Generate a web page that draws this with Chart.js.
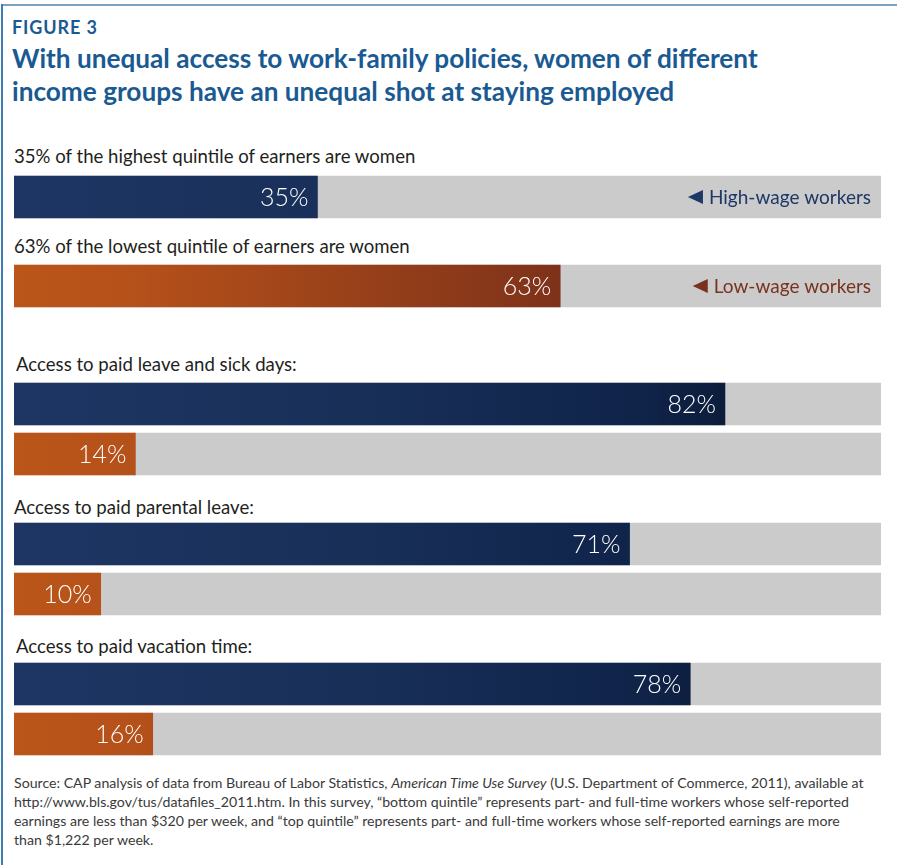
<!DOCTYPE html>
<html>
<head>
<meta charset="utf-8">
<script src="https://cdn.jsdelivr.net/npm/chart.js@4"></script>
<style>
  html, body { margin: 0; padding: 0; background: #fff; }
  #wrap { position: relative; width: 897px; height: 865px; overflow: hidden; font-family: Lato, "Open Sans", sans-serif; }
  .frameTop { position: absolute; left: 2px; top: 4px; width: 895px; height: 2px; background: #7aa3c0; }
  .frameLeft { position: absolute; left: 1px; top: 4px; width: 2px; height: 861px; background: #3d7db3; }
  .fig { position: absolute; left: 12px; top: 16px; font-size: 18px; font-weight: 700; color: #1a5a92; letter-spacing: 0.9px; }
  .title { position: absolute; left: 12px; top: 42px; font-size: 26.2px; font-weight: 700; color: #1a5a92; line-height: 33px; white-space: nowrap; }
  .lab { position: absolute; left: 14px; font-size: 18.6px; color: #231f20; white-space: nowrap; }
  .src { position: absolute; left: 14px; top: 773px; font-size: 14.15px; line-height: 19px; color: #3a3a3a; white-space: nowrap; }
  canvas { position: absolute; left: 14px; }
</style>
</head>
<body>
<div id="wrap">
  <div class="frameTop"></div>
  <div class="frameLeft"></div>
  <div class="fig">FIGURE 3</div>
  <div class="title">With unequal access to work-family policies, women of different<br>income groups have an unequal shot at staying employed</div>

  <div class="lab" id="lab0" style="top:145px"></div>
  <canvas id="c0" width="867" height="50" style="top:172px"></canvas>
  <div class="lab" id="lab1" style="top:235px"></div>
  <canvas id="c1" width="867" height="50" style="top:261px"></canvas>

  <div class="lab" id="lab2" style="top:353px; left:16px"></div>
  <canvas id="c2" width="867" height="100" style="top:379px"></canvas>
  <div class="lab" id="lab3" style="top:496px"></div>
  <canvas id="c3" width="867" height="100" style="top:519px"></canvas>
  <div class="lab" id="lab4" style="top:635px; left:16px"></div>
  <canvas id="c4" width="867" height="100" style="top:659px"></canvas>

  <div class="src">Source: CAP analysis of data from Bureau of Labor Statistics, <i>American Time Use Survey</i> (U.S. Department of Commerce, 2011), available at<br>http://www.bls.gov/tus/datafiles_2011.htm. In this survey, “bottom quintile” represents part- and full-time workers whose self-reported<br>earnings are less than $320 per week, and “top quintile” represents part- and full-time workers whose self-reported earnings are more<br>than $1,222 per week.</div>
</div>

<script>
// ---- Data ----
const shareLabels = ["35% of the highest quintile of earners are women", "63% of the lowest quintile of earners are women"];
const shareGroups = ["High-wage workers", "Low-wage workers"];
const shareWomen = [35, 63];

const policyLabels = ["Access to paid leave and sick days:", "Access to paid parental leave:", "Access to paid vacation time:"];
const highWageAccess = [82, 71, 78];
const lowWageAccess = [14, 10, 16];

const scaleMax = 100;

// ---- Styles ----
const NAVY_STOPS = [[0, '#1e3664'], [0.4, '#182f58'], [0.72, '#10244a'], [0.85, '#0b1b37'], [1, '#08152d']];
const ORANGE_STOPS = [[0, '#bb5619'], [0.15, '#b4501a'], [0.63, '#7e321a'], [1, '#5e251a']];
const TRACK = '#cbcbcb';
const LEGEND_COLORS = { "High-wage workers": '#1d3866', "Low-wage workers": '#7a321c' };

function gradFor(chart, stops) {
  const a = chart.chartArea;
  if (!a) return stops[0][1];
  const g = chart.ctx.createLinearGradient(a.left, 0, a.right, 0);
  stops.forEach(s => g.addColorStop(s[0], s[1]));
  return g;
}

const valueLabelPlugin = {
  id: 'valueLabels',
  afterDatasetsDraw(chart) {
    const ctx = chart.ctx;
    const meta = chart.getDatasetMeta(0);
    ctx.save();
    ctx.fillStyle = '#ffffff';
    ctx.font = '300 25px Lato, "Open Sans", sans-serif';
    ctx.textAlign = 'right';
    ctx.textBaseline = 'middle';
    meta.data.forEach((bar, i) => {
      const v = chart.data.datasets[0].data[i];
      ctx.fillText(v + '%', bar.x - 9, bar.y + 1);
    });
    ctx.restore();
  }
};

const legendTagPlugin = {
  id: 'legendTag',
  afterDatasetsDraw(chart, args, opts) {
    if (!opts || !opts.text) return;
    const ctx = chart.ctx;
    const meta = chart.getDatasetMeta(0);
    const bar = meta.data[0];
    const right = chart.chartArea.right - 10;
    ctx.save();
    ctx.font = '19px Lato, "Open Sans", sans-serif';
    ctx.textAlign = 'right';
    ctx.textBaseline = 'middle';
    ctx.fillStyle = opts.color;
    const w = ctx.measureText(opts.text).width;
    ctx.fillText(opts.text, right, bar.y + 1);
    const tx = right - w - 6;
    ctx.beginPath();
    ctx.moveTo(tx, bar.y - 7);
    ctx.lineTo(tx, bar.y + 7);
    ctx.lineTo(tx - 15, bar.y);
    ctx.closePath();
    ctx.fill();
    ctx.restore();
  }
};

function makeChart(id, cats, values, stopsList, legendText) {
  return new Chart(document.getElementById(id), {
    type: 'bar',
    data: {
      labels: cats,
      datasets: [
        {
          data: values,
          backgroundColor: (c) => gradFor(c.chart, stopsList[c.dataIndex]),
          grouped: false,
          barThickness: 42,
          borderWidth: 0
        },
        {
          data: values.map(() => scaleMax),
          backgroundColor: TRACK,
          grouped: false,
          barThickness: 42,
          borderWidth: 0
        }
      ]
    },
    options: {
      indexAxis: 'y',
      responsive: false,
      animation: false,
      layout: { padding: 0 },
      scales: {
        x: { display: false, min: 0, max: scaleMax },
        y: { display: false }
      },
      plugins: {
        legend: { display: false },
        tooltip: { enabled: false },
        legendTag: legendText ? { text: legendText, color: LEGEND_COLORS[legendText] } : {}
      }
    },
    plugins: [valueLabelPlugin, legendTagPlugin]
  });
}

document.getElementById('lab0').textContent = shareLabels[0];
document.getElementById('lab1').textContent = shareLabels[1];
makeChart('c0', [shareGroups[0]], [shareWomen[0]], [NAVY_STOPS], shareGroups[0]);
makeChart('c1', [shareGroups[1]], [shareWomen[1]], [ORANGE_STOPS], shareGroups[1]);

policyLabels.forEach((lab, i) => {
  document.getElementById('lab' + (i + 2)).textContent = lab;
  makeChart('c' + (i + 2), shareGroups, [highWageAccess[i], lowWageAccess[i]], [NAVY_STOPS, ORANGE_STOPS], null);
});
</script>
</body>
</html>
